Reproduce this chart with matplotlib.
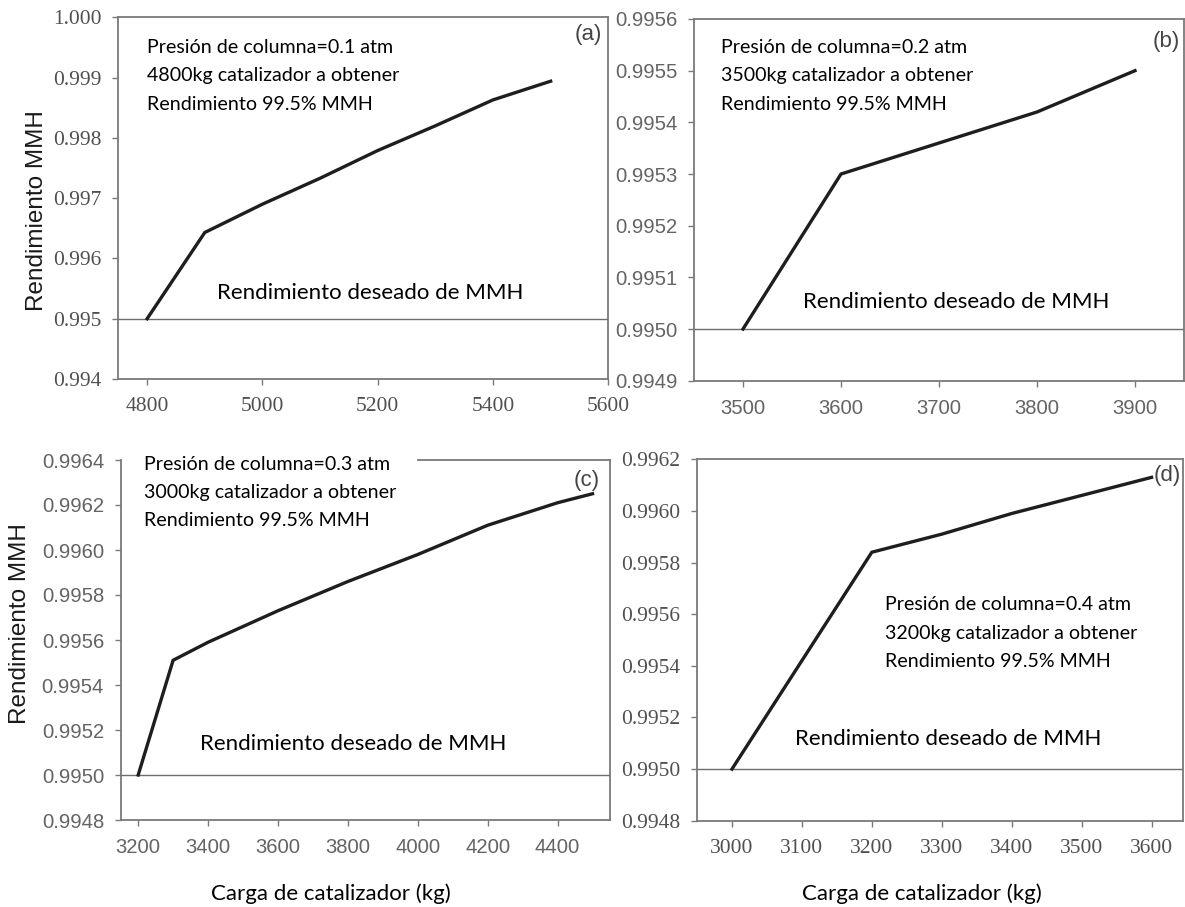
import matplotlib
matplotlib.use("Agg")
import matplotlib.pyplot as plt
from matplotlib.ticker import FormatStrFormatter

# ---- data -------------------------------------------------------------
# (a) column pressure 0.1 atm
carga_a = [4800, 4900, 5000, 5100, 5200, 5300, 5400, 5500]
rend_a = [0.9950, 0.99643, 0.99690, 0.99733, 0.99779, 0.99820, 0.99863, 0.99894]
# (b) column pressure 0.2 atm
carga_b = [3500, 3600, 3700, 3800, 3900]
rend_b = [0.99500, 0.99530, 0.99536, 0.99542, 0.99550]
# (c) column pressure 0.3 atm
carga_c = [3200, 3300, 3400, 3600, 3800, 4000, 4200, 4400, 4500]
rend_c = [0.99500, 0.99551, 0.99559, 0.99573, 0.99586, 0.99598, 0.99611, 0.99621, 0.99625]
# (d) column pressure 0.4 atm
carga_d = [3000, 3100, 3200, 3300, 3400, 3500, 3600]
rend_d = [0.99500, 0.99542, 0.99584, 0.99591, 0.99599, 0.99606, 0.99613]

objetivo = 0.995

xticks_a = [4800, 5000, 5200, 5400, 5600]
yticks_a = [0.994, 0.995, 0.996, 0.997, 0.998, 0.999, 1.000]
xticks_b = [3500, 3600, 3700, 3800, 3900]
yticks_b = [0.9949, 0.9950, 0.9951, 0.9952, 0.9953, 0.9954, 0.9955, 0.9956]
xticks_c = [3200, 3400, 3600, 3800, 4000, 4200, 4400]
yticks_c = [0.9948, 0.9950, 0.9952, 0.9954, 0.9956, 0.9958, 0.9960, 0.9962, 0.9964]
xticks_d = [3000, 3100, 3200, 3300, 3400, 3500, 3600]
yticks_d = [0.9948, 0.9950, 0.9952, 0.9954, 0.9956, 0.9958, 0.9960, 0.9962]

notas_a = ["Presión de columna=0.1 atm", "4800kg catalizador a obtener", "Rendimiento 99.5% MMH"]
notas_b = ["Presión de columna=0.2 atm", "3500kg catalizador a obtener", "Rendimiento 99.5% MMH"]
notas_c = ["Presión de columna=0.3 atm", "3000kg catalizador a obtener", "Rendimiento 99.5% MMH"]
notas_d = ["Presión de columna=0.4 atm", "3200kg catalizador a obtener", "Rendimiento 99.5% MMH"]
texto_objetivo = "Rendimiento deseado de MMH"
ylabel = "Rendimiento MMH"
xlabel = "Carga de catalizador (kg)"

# ---- figure -----------------------------------------------------------
W, H = 1185, 907
fig = plt.figure(figsize=(W / 100, H / 100), dpi=100)
fig.patch.set_facecolor("white")


def box(l, r, t, b):
    return [l / W, 1 - b / H, (r - l) / W, (b - t) / H]


def fx(x):
    return x / W


def fy(y):
    return 1 - y / H


SPINE = "#7a7a7a"
LINE = "#1e1e1e"
NOTE_FONT = "Lato"
SERIF = "Liberation Serif"
SANS = "Liberation Sans"


def panel(rect, x, y, xlim, ylim, xt, yt, fmt, tickfont, tickcolor, ticksize):
    ax = fig.add_axes(rect)
    ax.plot(x, y, color=LINE, lw=2.4, solid_joinstyle="miter", zorder=4)
    ax.axhline(objetivo, color="#6e6e6e", lw=1.0, zorder=3)
    ax.set_xlim(*xlim)
    ax.set_ylim(*ylim)
    ax.set_xticks(xt)
    ax.set_yticks(yt)
    ax.yaxis.set_major_formatter(FormatStrFormatter(fmt))
    for s in ax.spines.values():
        s.set_color(SPINE)
        s.set_linewidth(1.3)
    ax.tick_params(direction="out", length=4, width=1.0, color=SPINE,
                   labelcolor=tickcolor, labelsize=ticksize,
                   labelfontfamily=tickfont)
    ax.tick_params(axis="y", pad=8)
    ax.tick_params(axis="x", pad=9)
    return ax


ax_a = panel(box(118.3, 608.3, 17.3, 379.0), carga_a, rend_a, (4750, 5600), (0.994, 1.000),
             xticks_a, yticks_a, "%.3f", SERIF, "#505050", 15.5)
ax_b = panel(box(694.0, 1184.0, 19.0, 380.7), carga_b, rend_b, (3450, 3950), (0.9949, 0.9956),
             xticks_b, yticks_b, "%.4f", SANS, "#646464", 14.6)
ax_c = panel(box(120.7, 610.0, 460.0, 820.0), carga_c, rend_c, (3150, 4550), (0.9948, 0.9964),
             xticks_c, yticks_c, "%.4f", SANS, "#646464", 14.6)
ax_d = panel(box(697.0, 1183.0, 459.3, 820.7), carga_d, rend_d, (2950, 3645), (0.9948, 0.9962),
             xticks_d, yticks_d, "%.4f", SERIF, "#505050", 15.5)

# the note block in (c) sits over the left part of the top frame
ax_c.spines["top"].set_bounds(4000, 4550)

# ---- text -------------------------------------------------------------
NOTE_SIZE = 14.1
GAP = 28.2
for notas, (x0, y0) in [(notas_a, (146.7, 47.7)), (notas_b, (720.7, 47.7)),
                        (notas_c, (144.3, 464.0)), (notas_d, (885.0, 605.0))]:
    for i, t in enumerate(notas):
        fig.text(fx(x0), fy(y0 + i * GAP), t, ha="left", va="center",
                 fontsize=NOTE_SIZE, family=NOTE_FONT, color="black")

for (x0, y0) in [(216.7, 292.7), (802.7, 301.7), (200.0, 744.0), (795.0, 739.3)]:
    fig.text(fx(x0), fy(y0), texto_objetivo, ha="left", va="center",
             fontsize=16.0, family=NOTE_FONT, color="black")

for lab, (x0, y0) in [("(a)", (588.5, 34.3)), ("(b)", (1165.8, 41.7)),
                      ("(c)", (587.0, 480.0)), ("(d)", (1167.5, 476.0))]:
    fig.text(fx(x0), fy(y0), lab, ha="center", va="center",
             fontsize=16, family=SANS, color="#444444")

for (x0, y0) in [(36.7, 210.7), (20.0, 624.0)]:
    fig.text(fx(x0), fy(y0), ylabel, ha="center", va="center", rotation=90,
             fontsize=17.5, family=SANS, color="#1a1a1a")

for (x0, y0) in [(331.0, 893.3), (921.7, 893.3)]:
    fig.text(fx(x0), fy(y0), xlabel, ha="center", va="center",
             fontsize=16.0, family=NOTE_FONT, color="black")

fig.savefig("out.png", dpi=100, facecolor="white")
